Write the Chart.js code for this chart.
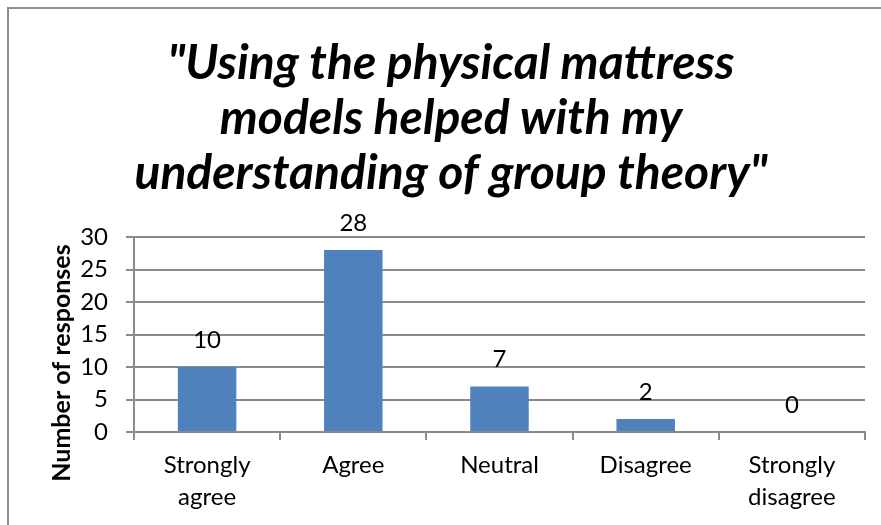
<!DOCTYPE html>
<html><head><meta charset="utf-8">
<script src="https://cdn.jsdelivr.net/npm/chart.js@4"></script>
<style>
html,body{margin:0;padding:0;background:#fff;overflow:hidden}
#wrap{position:absolute;left:0;top:0;width:881px;height:525px}
#frame{position:absolute;left:7px;top:7px;width:880px;height:530px;border-left:2px solid #8c8c8c;border-top:2px solid #8c8c8c;pointer-events:none}
</style></head>
<body>
<div id="wrap"><canvas id="c" width="881" height="525"></canvas></div>
<div id="frame"></div>
<script>
const categories = [['Strongly', 'agree'], 'Agree', 'Neutral', 'Disagree', ['Strongly', 'disagree']];
const responses = [10, 28, 7, 2, 0];
const titleLines = ['"Using the physical mattress', 'models helped with my', 'understanding of group theory"'];
const yAxisTitle = 'Number of responses';
const yMin = 0, yMax = 30, yStep = 5;

const FONT = 'Lato, Carlito, "Liberation Sans", sans-serif';
const GRID = '#8a8a8a';

const valueLabels = {
  id: 'valueLabels',
  afterDatasetsDraw(chart) {
    const ctx = chart.ctx;
    const meta = chart.getDatasetMeta(0);
    ctx.save();
    ctx.font = '24px ' + FONT;
    ctx.fillStyle = '#000';
    ctx.textAlign = 'center';
    ctx.textBaseline = 'middle';
    meta.data.forEach((bar, i) => {
      ctx.fillText(String(responses[i]), bar.x, bar.y - 27);
    });
    ctx.restore();
  }
};

const yTitle = {
  id: 'yTitle',
  afterDraw(chart) {
    const ctx = chart.ctx;
    ctx.save();
    ctx.translate(62, 363);
    ctx.rotate(-Math.PI / 2);
    ctx.font = 'bold 25px ' + FONT;
    ctx.fillStyle = '#000';
    ctx.textAlign = 'center';
    ctx.textBaseline = 'middle';
    ctx.fillText(yAxisTitle, 0, 0);
    ctx.restore();
  }
};

new Chart(document.getElementById('c'), {
  type: 'bar',
  data: {
    labels: categories,
    datasets: [{
      data: responses,
      backgroundColor: '#4F81BD',
      borderWidth: 0,
      barPercentage: 0.4,
      categoryPercentage: 1.0
    }]
  },
  options: {
    responsive: false,
    animation: false,
    devicePixelRatio: 1,
    layout: { padding: { left: 37, right: 16, top: 0, bottom: 0 } },
    plugins: {
      legend: { display: false },
      tooltip: { enabled: false },
      title: {
        display: true,
        text: titleLines,
        color: '#000',
        font: { family: FONT, size: 48, weight: 'bold', style: 'italic', lineHeight: 55 / 48 },
        padding: { top: 36, bottom: 36 }
      }
    },
    scales: {
      x: {
        offset: true,
        grid: { display: true, drawOnChartArea: false, drawTicks: true, tickLength: 8, color: GRID, lineWidth: 2 },
        border: { display: true, color: GRID, width: 2 },
        ticks: { color: '#000', font: { family: FONT, size: 24, lineHeight: 1.3 }, padding: 10, maxRotation: 0, autoSkip: false },
        afterFit(s) { s.height = 93; }
      },
      y: {
        min: yMin, max: yMax,
        grid: { color: GRID, lineWidth: 2, tickLength: 8 },
        border: { display: true, color: GRID, width: 2 },
        ticks: { stepSize: yStep, color: '#000', font: { family: FONT, size: 24 }, padding: 18 },
        afterFit(s) { s.width = 97; }
      }
    }
  },
  plugins: [valueLabels, yTitle]
});
</script>
</body></html>
